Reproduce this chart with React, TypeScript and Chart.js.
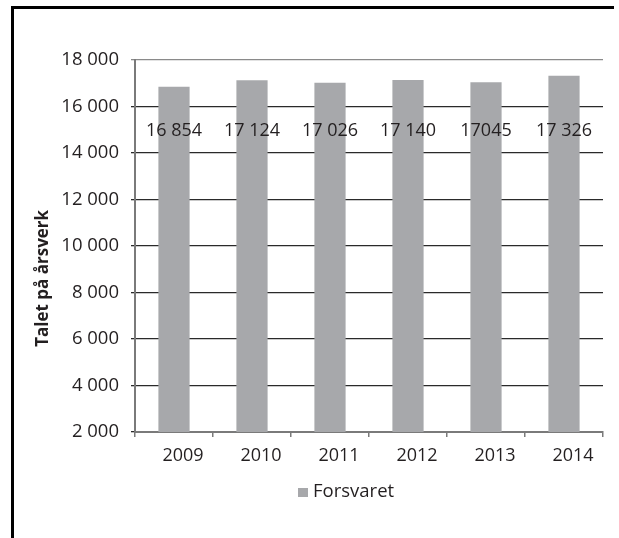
import React, { useEffect, useRef } from "react";
import { Chart, registerables } from "chart.js";

Chart.register(...registerables);

const categories = ["2009", "2010", "2011", "2012", "2013", "2014"];
const values = [16854, 17124, 17026, 17140, 17045, 17326];
const valueLabels = ["16 854", "17 124", "17 026", "17 140", "17045", "17 326"];
const yMin = 2000;
const yMax = 18000;
const yStep = 2000;
const seriesName = "Forsvaret";
const axisTitle = "Talet på årsverk";

const BAR_COLOR = "#a7a8ab";
const TEXT_COLOR = "#231f20";
const FONT = '"Open Sans", "DejaVu Sans", sans-serif';

const fmt = (v: number) => {
  const s = String(Math.round(v));
  return s.replace(/\B(?=(\d{3})+(?!\d))/g, " ");
};

const overlayPlugin = {
  id: "overlay",
  afterDatasetsDraw(chart: any) {
    const ctx = chart.ctx as CanvasRenderingContext2D;
    const meta = chart.getDatasetMeta(0);
    const area = chart.chartArea;
    const yScale = chart.scales.y;
    ctx.save();
    // value labels (inside bars, on a common row)
    ctx.font = `18px ${FONT}`;
    ctx.fillStyle = TEXT_COLOR;
    ctx.textAlign = "center";
    ctx.textBaseline = "middle";
    const labelY = yScale.getPixelForValue(15000) + 1;
    meta.data.forEach((bar: any, i: number) => {
      ctx.fillText(valueLabels[i], bar.x, labelY);
    });
    // y axis title
    ctx.save();
    ctx.font = `bold 17px ${FONT}`;
    ctx.translate(43, area.top + area.height * 0.587);
    ctx.rotate(-Math.PI / 2);
    ctx.fillText(axisTitle, 0, 0);
    ctx.restore();
    // legend
    const lx = area.left + 163;
    const ly = area.bottom + 56;
    ctx.fillStyle = BAR_COLOR;
    ctx.fillRect(lx, ly, 10, 9);
    ctx.fillStyle = TEXT_COLOR;
    ctx.font = `18.5px ${FONT}`;
    ctx.textAlign = "left";
    ctx.textBaseline = "middle";
    ctx.fillText(seriesName, lx + 15, ly + 4);
    ctx.restore();
  },
};

export default function App() {
  const canvasRef = useRef<HTMLCanvasElement | null>(null);

  useEffect(() => {
    if (!canvasRef.current) return;
    const chart = new Chart(canvasRef.current, {
      type: "bar",
      data: {
        labels: categories,
        datasets: [
          {
            label: seriesName,
            data: values,
            backgroundColor: BAR_COLOR,
            borderWidth: 0,
            barPercentage: 0.4,
            categoryPercentage: 1,
          },
        ],
      },
      options: {
        animation: false,
        responsive: true,
        maintainAspectRatio: false,
        layout: { padding: { top: 60, left: 0, right: 16, bottom: 66 } },
        plugins: {
          legend: { display: false },
          tooltip: { enabled: false },
          title: { display: false },
        },
        scales: {
          x: {
            grid: {
              offset: true,
              drawOnChartArea: false,
              drawTicks: true,
              tickLength: 5,
              color: "#7a7a7a",
              lineWidth: 1.5,
            },
            border: { color: "#7a7a7a", width: 2 },
            ticks: {
              color: TEXT_COLOR,
              font: { family: FONT, size: 18 },
              padding: 8,
              labelOffset: 9,
              maxRotation: 0,
            },
            afterFit: (s: any) => {
              s.height = 40;
            },
          },
          y: {
            min: yMin,
            max: yMax,
            grid: {
              drawTicks: true,
              tickLength: 4,
              color: (c: any) => (c.tick && c.tick.value === yMax ? "#8a8a8a" : "#2a2a2a"),
              lineWidth: 1.3,
            },
            border: { color: "#7a7a7a", width: 2 },
            ticks: {
              stepSize: yStep,
              color: TEXT_COLOR,
              font: { family: FONT, size: 18.5 },
              padding: 12,
              callback: (v: any) => fmt(Number(v)),
            },
            afterFit: (s: any) => {
              s.width = 135;
            },
          },
        },
      },
      plugins: [overlayPlugin],
    });
    return () => chart.destroy();
  }, []);

  return (
    <div
      style={{
        position: "absolute",
        left: 0,
        top: 0,
        width: 619,
        height: 538,
        overflow: "hidden",
        background: "#fff",
      }}
    >
      <div
        style={{
          position: "absolute",
          left: 11,
          top: 6,
          width: 600,
          height: 529,
          borderTop: "3px solid #000",
          borderLeft: "3px solid #000",
        }}
      />
      <div style={{ position: "absolute", left: 0, top: 0, width: 619, height: 538 }}>
        <canvas ref={canvasRef} />
      </div>
    </div>
  );
}
